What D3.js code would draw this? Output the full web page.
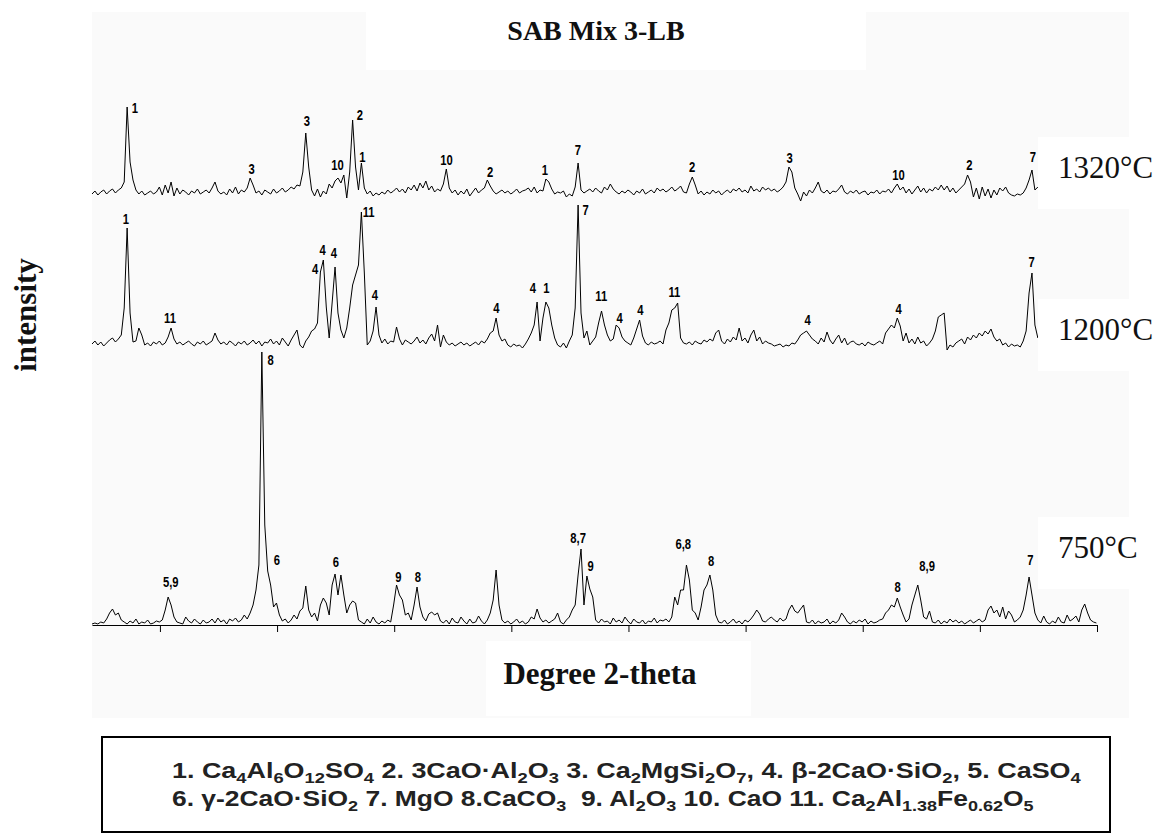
<!DOCTYPE html>
<html>
<head>
<meta charset="utf-8">
<script src="https://cdn.jsdelivr.net/npm/d3@7"></script>
<style>
  body { margin: 0; background: #fff; }
  svg { display: block; }
</style>
</head>
<body>
<div id="xrd-chart"></div>
<script>
// 2-theta grid of the three scans
const thetaStart = 12.1;
const thetaStep = 0.125;
const thetaEnd = 55;
const tickDegrees = [15, 20, 25, 30, 35, 40, 45, 50, 55];

const temperatures = ["1320°C", "1200°C", "750°C"];
// vertical offset of each scan in the stack
const offsets = [423, 272, 0];

// intensities, one value per 0.125 deg
const counts1320 = [
  8, 11, 7, 10, 12, 8, 11, 13, 9, 12,
  14, 20, 95, 40, 22, 12, 8, 11, 7, 9,
  11, 8, 10, 15, 7, 17, 9, 20, 6, 14,
  8, 12, 10, 7, 11, 9, 13, 8, 10, 12,
  9, 14, 20, 11, 8, 10, 7, 13, 9, 15,
  8, 12, 10, 14, 24, 17, 9, 11, 7, 12,
  10, 8, 13, 9, 11, 14, 10, 12, 15, 13,
  17, 16, 30, 69, 35, 12, 6, 13, 5, 11,
  8, 18, 14, 21, 24, 19, 27, 4, 30, 82,
  35, 12, 39, 14, 8, 11, 6, 9, 7, 10,
  8, 12, 9, 11, 14, 10, 13, 9, 15, 12,
  17, 11, 19, 14, 21, 12, 16, 10, 13, 11,
  18, 33, 14, 9, 12, 7, 11, 8, 13, 6,
  10, 14, 9, 12, 14, 22, 16, 11, 8, 10,
  12, 9, 11, 8, 10, 13, 9, 11, 12, 14,
  10, 15, 9, 12, 11, 23, 20, 13, 8, 10,
  9, 11, 5, 8, 6, 15, 39, 12, 9, 11,
  13, 10, 14, 11, 9, 15, 12, 18, 13, 10,
  8, 11, 9, 12, 10, 7, 11, 9, 13, 8,
  10, 12, 9, 14, 11, 13, 10, 12, 15, 11,
  13, 16, 10, 9, 18, 25, 17, 8, 11, 7,
  10, 8, 12, 9, 11, 7, 10, 12, 9, 13,
  11, 14, 10, 12, 9, 16, 11, 13, 10, 15,
  12, 14, 11, 13, 10, 12, 15, 20, 35, 30,
  14, 8, 1, 10, 6, 12, 9, 14, 20, 11,
  9, 12, 8, 11, 10, 13, 17, 10, 8, 11,
  9, 12, 8, 10, 11, 7, 10, 9, 12, 8,
  11, 10, 13, 9, 14, 18, 12, 15, 9, 13,
  8, 12, 16, 10, 14, 9, 13, 11, 15, 12,
  17, 12, 16, 10, 14, 9, 12, 15, 18, 27,
  20, 5, 14, 3, 15, 6, 13, 4, 12, 7,
  14, 11, 15, 9, 7, 6, 8, 7, 9, 14,
  22, 32, 12, 15
];

const counts1200 = [
  9, 12, 8, 11, 7, 10, 13, 15, 11, 14,
  18, 45, 125, 40, 11, 12, 25, 18, 8, 10,
  7, 11, 9, 12, 8, 10, 16, 25, 14, 9,
  11, 8, 10, 12, 9, 7, 11, 9, 12, 8,
  10, 12, 20, 13, 9, 11, 8, 12, 10, 7,
  11, 9, 12, 8, 10, 13, 9, 12, 7, 11,
  10, 14, 9, 12, 8, 15, 11, 7, 13, 18,
  23, 8, 5, 12, 16, 22, 24, 30, 81, 93,
  46, 15, 50, 86, 40, 23, 15, 25, 45, 68,
  78, 88, 141, 80, 8, 12, 22, 46, 18, 10,
  14, 9, 12, 11, 26, 14, 8, 13, 11, 9,
  12, 16, 10, 13, 9, 15, 19, 12, 28, 6,
  18, 11, 8, 10, 7, 9, 11, 8, 10, 7,
  9, 11, 8, 12, 10, 14, 20, 22, 35, 18,
  12, 14, 8, 6, 9, 7, 8, 5, 9, 14,
  20, 28, 51, 12, 35, 51, 45, 28, 15, 8,
  6, 10, 5, 12, 18, 45, 148, 40, 15, 22,
  8, 12, 16, 30, 42, 28, 18, 12, 14, 28,
  25, 16, 12, 10, 8, 15, 24, 33, 17, 10,
  8, 11, 9, 10, 12, 9, 23, 30, 43, 45,
  50, 15, 10, 9, 11, 8, 12, 10, 9, 13,
  11, 14, 12, 20, 23, 12, 9, 14, 11, 16,
  13, 25, 12, 15, 10, 18, 23, 12, 16, 9,
  12, 10, 9, 7, 8, 9, 6, 8, 7, 10,
  9, 13, 18, 20, 22, 18, 14, 12, 9, 15,
  11, 21, 13, 9, 14, 18, 10, 15, 8, 11,
  12, 9, 8, 10, 7, 11, 9, 8, 10, 12,
  9, 20, 24, 28, 25, 35, 27, 12, 20, 10,
  14, 9, 16, 10, 12, 7, 10, 14, 22, 36,
  38, 40, 3, 8, 6, 10, 12, 14, 9, 16,
  13, 18, 15, 20, 17, 22, 19, 24, 16, 12,
  14, 8, 10, 6, 9, 7, 8, 6, 12, 22,
  60, 80, 28, 15
];

const counts750 = [
  1, 2, 1, 3, 2, 6, 12, 16, 10, 12,
  5, 3, 1, 4, 2, 6, 1, 3, 2, 5,
  1, 2, 4, 3, 5, 15, 28, 20, 8, 3,
  2, 1, 8, 4, 2, 6, 3, 1, 5, 2,
  3, 6, 2, 7, 3, 5, 1, 6, 4, 7,
  3, 5, 10, 6, 12, 20, 35, 60, 273, 100,
  54, 40, 18, 22, 10, 4, 6, 2, 5, 10,
  6, 14, 17, 39, 15, 8, 12, 4, 20, 27,
  22, 10, 40, 51, 30, 50, 30, 12, 20, 24,
  22, 5, 3, 1, 6, 2, 8, 3, 1, 4,
  2, 5, 3, 20, 40, 30, 25, 10, 12, 5,
  20, 38, 18, 8, 4, 11, 13, 10, 12, 4,
  2, 5, 1, 7, 3, 2, 8, 4, 1, 6,
  2, 3, 9, 4, 1, 5, 12, 25, 55, 20,
  5, 2, 4, 1, 3, 6, 2, 4, 1, 3,
  8, 6, 16, 7, 3, 5, 2, 4, 6, 12,
  3, 1, 5, 8, 15, 20, 50, 76, 20, 49,
  36, 28, 5, 2, 6, 3, 4, 1, 7, 3,
  5, 2, 8, 4, 1, 6, 3, 2, 5, 1,
  4, 3, 7, 2, 5, 4, 6, 3, 8, 28,
  20, 35, 35, 60, 45, 15, 12, 5, 18, 35,
  40, 50, 35, 10, 3, 2, 5, 1, 3, 6,
  2, 4, 1, 5, 3, 6, 10, 15, 11, 4,
  3, 6, 8, 5, 3, 7, 4, 6, 15, 20,
  14, 12, 16, 20, 3, 2, 5, 1, 4, 2,
  3, 6, 1, 4, 2, 5, 12, 8, 3, 1,
  4, 2, 5, 3, 6, 1, 4, 2, 3, 5,
  6, 12, 15, 20, 18, 27, 18, 10, 3, 6,
  20, 30, 40, 25, 8, 6, 14, 3, 2, 5,
  1, 4, 2, 6, 3, 5, 2, 4, 1, 3,
  5, 2, 4, 6, 3, 5, 15, 19, 12, 15,
  8, 18, 6, 14, 10, 3, 5, 8, 15, 30,
  48, 30, 12, 5, 2, 9, 3, 1, 4, 2,
  8, 3, 2, 10, 4, 6, 9, 3, 15, 21,
  12, 5, 3, 2
];

// peak labels: [2-theta, intensity, phase number]
const peaks1320 = [
  [13.93, 94, "1"], [18.91, 33, "3"], [21.27, 81, "3"], [22.58, 37, "10"],
  [23.54, 87, "2"], [23.64, 45, "1"], [27.23, 42, "10"], [29.09, 30, "2"],
  [31.43, 32, "1"], [32.84, 52, "7"], [37.72, 35, "2"], [41.88, 44, "3"],
  [46.53, 27, "10"], [49.55, 37, "2"], [52.26, 45, "7"]
];
const peaks1200 = [
  [13.55, 134, "1"], [15.43, 35, "11"], [21.62, 84, "4"], [21.94, 103, "4"],
  [22.43, 100, "4"], [23.91, 141, "11"], [24.18, 58, "4"], [29.36, 45, "4"],
  [30.92, 65, "4"], [31.50, 65, "1"], [33.17, 143, "7"], [33.84, 57, "11"],
  [34.62, 35, "4"], [35.51, 43, "4"], [36.96, 61, "11"], [42.65, 33, "4"],
  [46.53, 44, "4"], [52.21, 91, "7"]
];
const peaks750 = [
  [15.46, 43, "5,9"], [19.73, 265, "8"], [19.99, 65, "6"], [22.51, 63, "6"],
  [25.18, 48, "9"], [26.01, 48, "8"], [32.85, 87, "8,7"], [33.38, 59, "9"],
  [37.34, 81, "6,8"], [38.53, 64, "8"], [46.49, 38, "8"], [47.75, 59, "8,9"],
  [52.16, 65, "7"]
];

const chartTitle = "SAB Mix 3-LB";
const xTitle = "Degree 2-theta";
const yTitle = "intensity";
// phase key, _{..} marks a subscript
const phaseKey = [
  "1. Ca_{4}Al_{6}O_{12}SO_{4} 2. 3CaO·Al_{2}O_{3} 3. Ca_{2}MgSi_{2}O_{7}, 4. β-2CaO·SiO_{2}, 5. CaSO_{4}",
  "6. γ-2CaO·SiO_{2} 7. MgO 8.CaCO_{3}  9. Al_{2}O_{3} 10. CaO 11. Ca_{2}Al_{1.38}Fe_{0.62}O_{5}"
];

const width = 1162, height = 834;
const serif = "'Liberation Serif', 'Times New Roman', serif";
const sans = "'Liberation Sans', Arial, sans-serif";

const svg = d3.select("#xrd-chart").append("svg")
    .attr("width", width)
    .attr("height", height);

const x = d3.scaleLinear().domain([thetaStart, thetaEnd]).range([92, 1097]);
const y = d3.scaleLinear().domain([0, 600]).range([625, 25]);

//Pale backdrop of the plot, with white patches behind the texts
svg.append("rect")
    .attr("x", 92).attr("y", 12)
    .attr("width", 1037).attr("height", 706)
    .attr("fill", "#fafafa");

svg.append("rect")
    .attr("x", 366).attr("y", 0)
    .attr("width", 500).attr("height", 70)
    .attr("fill", "#fff");

svg.append("rect")
    .attr("x", 486).attr("y", 641)
    .attr("width", 265).attr("height", 75)
    .attr("fill", "#fff");

//Scans
const series = [counts1320, counts1200, counts750];
series.forEach(function(counts, k) {
    let line = d3.line()
        .x(function(d, i) { return x(thetaStart + i * thetaStep); })
        .y(function(d) { return y(d + offsets[k]); });

    svg.append("path")
        .datum(counts)
        .attr("d", line)
        .attr("fill", "none")
        .attr("stroke", "#000")
        .attr("stroke-width", 1)
        .attr("stroke-linejoin", "miter");
});

//Peak labels
const peakSets = [peaks1320, peaks1200, peaks750];
peakSets.forEach(function(peaks, k) {
    svg.append("g").selectAll("text")
        .data(peaks)
        .enter()
        .append("text")
        .attr("transform", function(d) {
            return "translate(" + x(d[0]) + "," + y(d[1] + offsets[k]) + ") scale(0.75,1)";
        })
        .attr("text-anchor", "middle")
        .attr("dy", "0.36em")
        .attr("font-family", sans)
        .attr("font-weight", "bold")
        .attr("font-size", 15)
        .text(function(d) { return d[2]; });
});

//x axis, unlabelled ticks
svg.append("g")
    .attr("transform", "translate(0," + y(0) + ")")
    .call(d3.axisBottom(x).tickValues(tickDegrees).tickSize(7).tickSizeOuter(0).tickFormat(""))
    .call(function(g) {
        g.select(".domain").attr("stroke", "#000");
        g.selectAll(".tick line").attr("stroke", "#000");
    });

//Temperature labels on white boxes
const tempBaselines = [178, 340, 558];
temperatures.forEach(function(t, k) {
    svg.append("rect")
        .attr("x", 1038).attr("y", tempBaselines[k] - 41)
        .attr("width", 124).attr("height", 72)
        .attr("fill", "#fff");
    svg.append("text")
        .attr("x", 1058).attr("y", tempBaselines[k])
        .attr("font-family", serif)
        .attr("font-size", 31)
        .attr("fill", "#111")
        .text(t);
});

//Titles
svg.append("text")
    .attr("x", 596).attr("y", 40)
    .attr("text-anchor", "middle")
    .attr("font-family", serif)
    .attr("font-weight", "bold")
    .attr("font-size", 28)
    .attr("fill", "#111")
    .text(chartTitle);

svg.append("text")
    .attr("x", 600).attr("y", 684)
    .attr("text-anchor", "middle")
    .attr("font-family", serif)
    .attr("font-weight", "bold")
    .attr("font-size", 31)
    .attr("fill", "#111")
    .text(xTitle);

svg.append("text")
    .attr("transform", "translate(36,315) rotate(-90)")
    .attr("text-anchor", "middle")
    .attr("font-family", serif)
    .attr("font-weight", "bold")
    .attr("font-size", 31)
    .attr("fill", "#111")
    .text(yTitle);

//Phase key box
svg.append("rect")
    .attr("x", 102).attr("y", 737)
    .attr("width", 1008).attr("height", 95)
    .attr("fill", "#fff")
    .attr("stroke", "#000")
    .attr("stroke-width", 2);

const keyBaselines = [778, 806];
const keyWidths = [910, 862];
phaseKey.forEach(function(str, k) {
    let text = svg.append("text")
        .attr("font-family", sans)
        .attr("font-weight", "bold")
        .attr("font-size", 22)
        .attr("fill", "#222")
        .style("white-space", "pre");

    let parts = str.split(/_\{([^}]*)\}/);
    let down = false;
    parts.forEach(function(p, j) {
        if (!p) return;
        let t = text.append("tspan").text(p);
        if (j % 2 === 1) {
            t.attr("font-size", 15);
            if (!down) t.attr("dy", 5);
            down = true;
        } else {
            if (down) t.attr("dy", -5);
            down = false;
        }
    });

    let w = text.node().getBBox().width;
    text.attr("transform", "translate(172," + keyBaselines[k] + ") scale(" + (keyWidths[k] / w) + ",1)");
});
</script>
</body>
</html>
